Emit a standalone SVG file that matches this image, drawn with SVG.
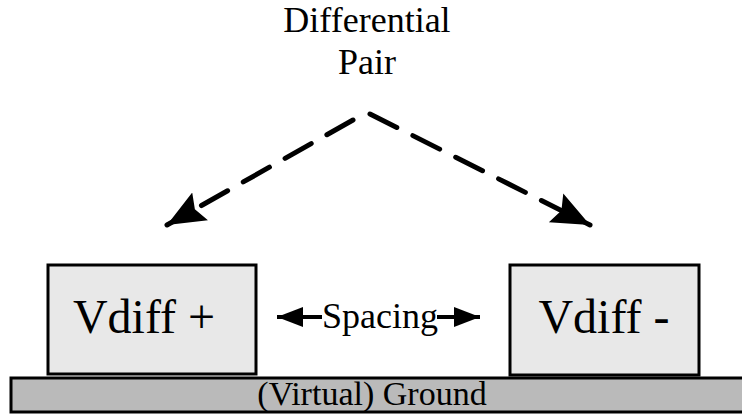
<svg xmlns="http://www.w3.org/2000/svg" width="742" height="414" viewBox="0 0 742 414">
  <style>
    text { fill: #000; font-family: "Liberation Serif", "Times New Roman", Tinos, "DejaVu Serif", serif; text-anchor: middle; }
    .box { fill: #e8e8e8; stroke: #000; stroke-width: 3; }
    .ground { fill: #bababa; stroke: #000; stroke-width: 3; }
    .dash { fill: none; stroke: #000; stroke-width: 5; stroke-dasharray: 30 18; stroke-linecap: round; }
    .solid { fill: none; stroke: #000; stroke-width: 4; }
  </style>
  <defs>
    <!-- filled heads for the dashed leaders -->
    <marker id="head" markerUnits="userSpaceOnUse" markerWidth="42" markerHeight="36" refX="38" refY="18" orient="auto">
      <path d="M0,2 L38,18 L0,34 L6,18 Z" fill="#000"/>
    </marker>
    <!-- heads for the spacing dimension arrows -->
    <marker id="small" markerUnits="userSpaceOnUse" markerWidth="28" markerHeight="22" refX="26" refY="11" orient="auto">
      <path d="M0,1 L26,11 L0,21 Z" fill="#000"/>
    </marker>
  </defs>

  <rect width="742" height="414" fill="#fff"/>

  <g id="title" font-size="36">
    <text x="367" y="32">Differential</text>
    <text x="367" y="74">Pair</text>
  </g>

  <g id="ground">
    <rect class="ground" x="11" y="378" width="740" height="34"/>
    <text x="372" y="405" font-size="34">(Virtual) Ground</text>
  </g>

  <g id="vdiff-plus">
    <rect class="box" x="48" y="265" width="208" height="109"/>
    <text x="144" y="333" font-size="48">Vdiff +</text>
  </g>

  <g id="vdiff-minus">
    <rect class="box" x="510" y="265" width="189" height="110"/>
    <text x="604" y="333" font-size="48">Vdiff -</text>
  </g>

  <g id="spacing">
    <text x="380" y="328" font-size="36">Spacing</text>
  </g>

  <g id="connectors">
    <path class="dash" d="M353,120 L167,225" marker-end="url(#head)"/>
    <path class="dash" d="M370,114 L590,225" marker-end="url(#head)"/>
    <path class="solid" d="M322,317 L277,317" marker-end="url(#small)"/>
    <path class="solid" d="M437,317 L480,317" marker-end="url(#small)"/>
  </g>
</svg>
